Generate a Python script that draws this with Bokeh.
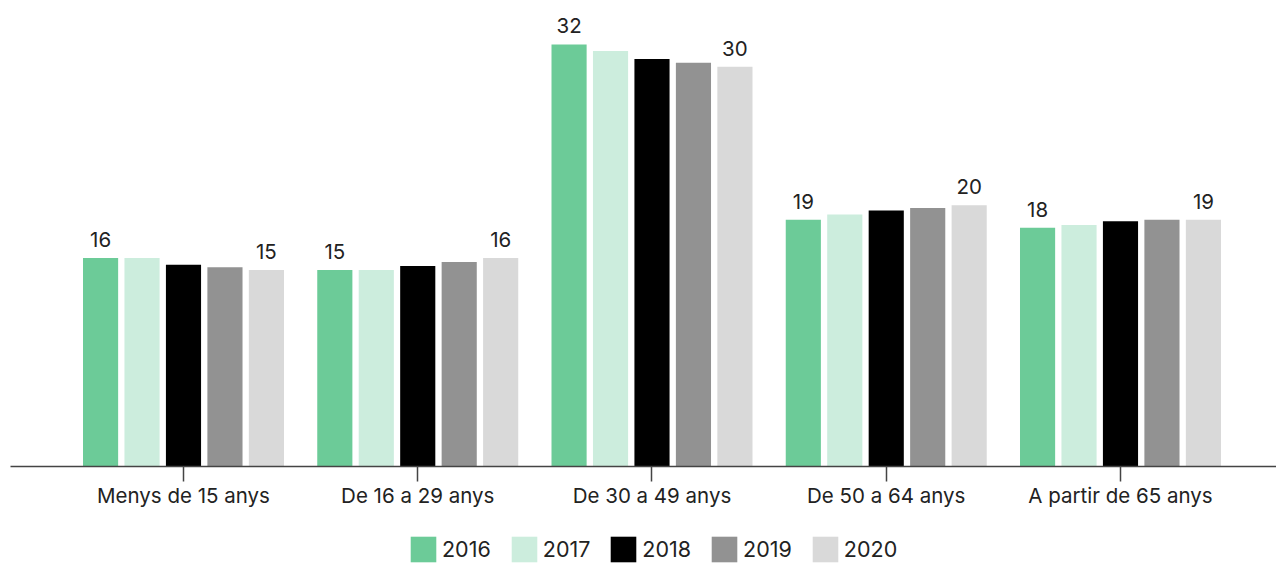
from bokeh.plotting import figure
from bokeh.layouts import column
from bokeh.models import ColumnDataSource, Range1d, FixedTicker, Legend, LegendItem
from bokeh.transform import dodge
from bokeh.core.properties import value
from bokeh.embed import file_html
from bokeh.resources import INLINE

categories = ["Menys de 15 anys", "De 16 a 29 anys", "De 30 a 49 anys", "De 50 a 64 anys", "A partir de 65 anys"]
years = ["2016", "2017", "2018", "2019", "2020"]
v2016 = [15.8, 14.9, 32.0, 18.7, 18.1]
v2017 = [15.8, 14.9, 31.5, 19.1, 18.3]
v2018 = [15.3, 15.2, 30.9, 19.4, 18.6]
v2019 = [15.1, 15.5, 30.6, 19.6, 18.7]
v2020 = [14.9, 15.8, 30.3, 19.8, 18.7]
series = [v2016, v2017, v2018, v2019, v2020]
colors = ["#6ccb98", "#cceddd", "#000000", "#929292", "#d9d9d9"]
labelled = ["2016", "2020"]

FONT = "Inter"
FS = "20.5px"
xpos = [i + 0.5 for i in range(len(categories))]

p = figure(width=1276, height=510, output_backend="svg", toolbar_location=None,
           x_range=Range1d(-0.2385, 5.166), y_range=Range1d(0, 34.72),
           min_border_left=10, min_border_right=0, min_border_top=8, min_border_bottom=44)
p.yaxis.visible = False
p.xgrid.visible = False
p.ygrid.visible = False
p.outline_line_color = None

# small companion figure holding only the legend, below the chart
lf = figure(width=1276, height=53, output_backend="svg", toolbar_location=None,
            x_range=Range1d(-0.2385, 5.166), y_range=Range1d(100, 101),
            min_border_left=10, min_border_right=0, min_border_top=0, min_border_bottom=0)
lf.xaxis.visible = False
lf.yaxis.visible = False
lf.xgrid.visible = False
lf.ygrid.visible = False
lf.outline_line_color = None

offsets = [-0.354, -0.177, 0.0, 0.177, 0.354]
items = []
for yr, vals, col, off in zip(years, series, colors, offsets):
    src = ColumnDataSource(dict(x=xpos, val=vals, lbl=[str(round(v)) for v in vals]))
    p.vbar(x=dodge("x", off), top="val", width=0.15, source=src, color=col, line_color=None)
    lr = lf.vbar(x=dodge("x", off), top="val", width=0.15, source=src, color=col,
                 line_color=None, visible=False)
    items.append(LegendItem(label=yr, renderers=[lr]))
    if yr in labelled:
        p.text(x=dodge("x", off), y="val", text="lbl", source=src, y_offset=-11,
               text_align="center", text_baseline="bottom", text_font_size=FS,
               text_font=value(FONT), text_color="#222222")

ax = p.xaxis[0]
ax.ticker = FixedTicker(ticks=xpos)
ax.major_label_overrides = {x: c for x, c in zip(xpos, categories)}
ax.minor_tick_line_color = None
ax.major_tick_in = 0
ax.major_tick_out = 15
ax.major_tick_line_color = "#444444"
ax.major_tick_line_width = 1.5
ax.axis_line_color = "#444444"
ax.axis_line_width = 1.5
ax.major_label_standoff = 1
ax.major_label_text_font = FONT
ax.major_label_text_font_size = FS
ax.major_label_text_color = "#222222"

legend = Legend(items=items, orientation="horizontal", location=(397, -2),
                glyph_width=32, glyph_height=32, label_standoff=3, spacing=17,
                label_text_font=FONT, label_text_font_size="21.5px", label_text_color="#222222",
                border_line_color=None, background_fill_alpha=0, padding=0, margin=0,
                click_policy="none")
lf.add_layout(legend, "center")

layout = column(p, lf, spacing=0)
open("out.html", "w").write(file_html(layout, INLINE))
